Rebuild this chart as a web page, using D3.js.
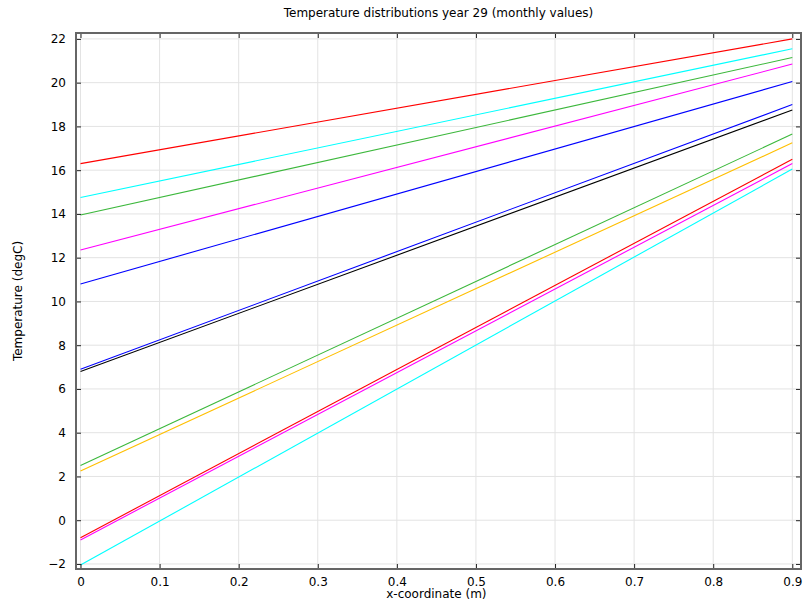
<!DOCTYPE html>
<html>
<head>
<meta charset="utf-8">
<script src="https://cdn.jsdelivr.net/npm/d3@7"></script>
<style>
  body { margin: 0; background: #fff; }
  text { font-family: "DejaVu Sans", sans-serif; fill: #000; }
  .grid line { stroke: #e3e3e3; stroke-width: 1; }
</style>
</head>
<body>
<svg id="chart" width="804" height="602"></svg>
<script>
// x positions of the line ends (m)
const xPos = [0, 0.9];
// monthly distributions: temperature at x = 0 and x = 0.9
const months = ["1", "2", "3", "4", "5", "6", "7", "8", "9", "10", "11", "12"];
const startTemp = [6.9, 2.5, -0.8, -2.05, -0.9, 2.25, 6.8, 10.8, 13.95, 16.3, 14.75, 12.35];
const endTemp = [19.0, 17.65, 16.5, 16.05, 16.3, 17.25, 18.75, 20.05, 21.15, 22.0, 21.55, 20.85];
const colors = ["#0000ff", "#3cb83c", "#ff0000", "#00ffff", "#ff00ff", "#ffbf00", "#000000",
                "#0000ff", "#3cb83c", "#ff0000", "#00ffff", "#ff00ff"];
const xTicks = [0, 0.1, 0.2, 0.3, 0.4, 0.5, 0.6, 0.7, 0.8, 0.9];
const yTicks = [-2, 0, 2, 4, 6, 8, 10, 12, 14, 16, 18, 20, 22];

const margin = { top: 33, right: 3, bottom: 33, left: 76 };
const width = 804, height = 602;
const svg = d3.select("#chart");

const xScale = d3.scaleLinear()
    .domain([-0.0057, 0.911])
    .range([margin.left, width - margin.right]);
const yScale = d3.scaleLinear()
    .domain([-2.23, 22.27])
    .range([height - margin.bottom, margin.top]);

// grid
svg.append("g").attr("class", "grid")
    .selectAll("line.gx").data(xTicks).join("line")
    .attr("x1", d => xScale(d)).attr("x2", d => xScale(d))
    .attr("y1", margin.top).attr("y2", height - margin.bottom);
svg.append("g").attr("class", "grid")
    .selectAll("line.gy").data(yTicks).join("line")
    .attr("x1", margin.left).attr("x2", width - margin.right)
    .attr("y1", d => yScale(d)).attr("y2", d => yScale(d));

// lines
const lineFunc = d3.line().x(d => xScale(d[0])).y(d => yScale(d[1]));
svg.append("g")
    .selectAll("path.trend")
    .data(months.map((m, i) => [[xPos[0], startTemp[i]], [xPos[1], endTemp[i]]]))
    .join("path")
    .attr("class", "trend")
    .attr("fill", "none")
    .attr("stroke", (d, i) => colors[i])
    .attr("stroke-width", 1.1)
    .attr("d", lineFunc);

// axes (inward ticks on all sides)
const tickLen = 5;
const styleAxis = g => {
    g.select(".domain").remove();
    g.selectAll(".tick line").attr("stroke", "#222");
    g.selectAll("text").style("font-size", "12px").attr("fill", "#000");
};
svg.append("g")
    .attr("transform", `translate(0,${height - margin.bottom})`)
    .call(d3.axisBottom(xScale).tickValues(xTicks).tickFormat(d3.format("")).tickSizeInner(-tickLen).tickSizeOuter(0).tickPadding(8))
    .call(styleAxis);
svg.append("g")
    .attr("transform", `translate(0,${margin.top})`)
    .call(d3.axisTop(xScale).tickValues(xTicks).tickFormat("").tickSizeInner(-tickLen).tickSizeOuter(0))
    .call(styleAxis);
svg.append("g")
    .attr("transform", `translate(${margin.left},0)`)
    .call(d3.axisLeft(yScale).tickValues(yTicks).tickSizeInner(-tickLen).tickSizeOuter(0).tickPadding(10))
    .call(styleAxis);
svg.append("g")
    .attr("transform", `translate(${width - margin.right},0)`)
    .call(d3.axisRight(yScale).tickValues(yTicks).tickFormat("").tickSizeInner(-tickLen).tickSizeOuter(0))
    .call(styleAxis);

// frame
svg.append("rect")
    .attr("x", margin.left).attr("y", margin.top)
    .attr("width", width - margin.left - margin.right)
    .attr("height", height - margin.top - margin.bottom)
    .attr("fill", "none").attr("stroke", "#666").attr("stroke-width", 2);

// labels
svg.append("text")
    .attr("x", (margin.left + width - margin.right) / 2).attr("y", 17)
    .attr("text-anchor", "middle").style("font-size", "12px")
    .text("Temperature distributions year 29 (monthly values)");
svg.append("text")
    .attr("x", xScale(0.45)).attr("y", 598)
    .attr("text-anchor", "middle").style("font-size", "12px")
    .text("x-coordinate (m)");
svg.append("text")
    .attr("transform", `translate(22,${(margin.top + height - margin.bottom) / 2}) rotate(-90)`)
    .attr("text-anchor", "middle").style("font-size", "12px")
    .text("Temperature (degC)");
</script>
</body>
</html>
